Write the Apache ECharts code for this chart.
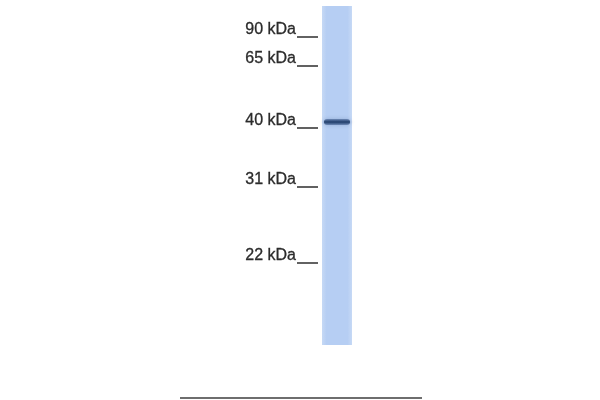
<!DOCTYPE html>
<html>
<head>
<meta charset="utf-8">
<script src="https://cdn.jsdelivr.net/npm/echarts@6/dist/echarts.min.js"></script>
<style>
  html, body { margin: 0; padding: 0; background: #fff; }
  #chart { width: 600px; height: 400px; }
</style>
</head>
<body>
<div id="chart"></div>
<script>
// Western blot: one lane, a ladder of size markers and a single band.
const markerLabels = ["90 kDa", "65 kDa", "40 kDa", "31 kDa", "22 kDa"];
const markerPos = [30, 59, 121, 180, 256];   // migration distance from the top
const lane = [6, 345];                       // lane start / end (migration)
const bandPos = [122];                       // detected band(s)
const bandStrength = [1];

const chart = echarts.init(document.getElementById("chart"), null, { renderer: "canvas" });

const LANE_X = [322, 352];
const TICK_X = [297, 318];
const BASE_X = [180, 422];

chart.setOption({
  backgroundColor: "#fff",
  animation: false,
  grid: { left: 0, right: 0, top: 0, bottom: 0 },
  xAxis: { type: "value", min: 0, max: 600, show: false },
  yAxis: { type: "value", min: 0, max: 400, inverse: true, show: false },
  series: [
    {
      // the lane itself
      type: "custom",
      data: [[lane[0], lane[1]]],
      renderItem(params, api) {
        const a = api.coord([LANE_X[0], api.value(0)]);
        const b = api.coord([LANE_X[1], api.value(1)]);
        return {
          type: "rect",
          shape: { x: a[0], y: a[1], width: b[0] - a[0], height: b[1] - a[1] },
          style: {
            fill: new echarts.graphic.LinearGradient(0, 0, 1, 0, [
              { offset: 0, color: "#c6d9f5" },
              { offset: 0.15, color: "#b6cef3" },
              { offset: 0.85, color: "#b6cef3" },
              { offset: 1, color: "#c6d9f5" },
            ]),
          },
        };
      },
    },
    {
      // bands
      type: "custom",
      data: bandPos.map((p, i) => [p, bandStrength[i]]),
      renderItem(params, api) {
        const a = api.coord([LANE_X[0] + 2, api.value(0)]);
        const b = api.coord([LANE_X[1] - 2, api.value(0)]);
        const h = 6;
        return {
          type: "rect",
          shape: { x: a[0], y: a[1] - h / 2, width: b[0] - a[0], height: h, r: 3 },
          style: {
            fill: new echarts.graphic.LinearGradient(0, 0, 0, 1, [
              { offset: 0, color: "rgba(50,80,130,0.45)" },
              { offset: 0.5, color: "#223f6b" },
              { offset: 1, color: "rgba(50,80,130,0.45)" },
            ]),
            shadowBlur: 4,
            shadowColor: "rgba(30,60,110,0.5)",
          },
        };
      },
    },
    {
      // marker labels and ticks
      type: "custom",
      data: markerPos.map((p, i) => [p, i]),
      renderItem(params, api) {
        const y = api.value(0);
        const t = api.coord([TICK_X[0], y]);
        const t2 = api.coord([TICK_X[1], y]);
        return {
          type: "group",
          children: [
            {
              type: "text",
              style: {
                text: markerLabels[api.value(1)],
                x: t[0] - 1, y: t[1],
                align: "right", verticalAlign: "middle",
                font: "16px 'Liberation Sans', Arial, sans-serif",
                fill: "#2b2b2b",
                stroke: "#2b2b2b",
                lineWidth: 0.3,
              },
            },
            {
              type: "line",
              shape: { x1: t[0], y1: t[1] + 7, x2: t2[0], y2: t2[1] + 7 },
              style: { stroke: "#3a3a3a", lineWidth: 1.6 },
            },
          ],
        };
      },
    },
    {
      // baseline under the blot
      type: "custom",
      data: [[398]],
      renderItem(params, api) {
        const a = api.coord([BASE_X[0], api.value(0)]);
        const b = api.coord([BASE_X[1], api.value(0)]);
        return {
          type: "line",
          shape: { x1: a[0], y1: a[1], x2: b[0], y2: b[1] },
          style: { stroke: "#6e6e6e", lineWidth: 2 },
        };
      },
    },
  ],
});
</script>
</body>
</html>
